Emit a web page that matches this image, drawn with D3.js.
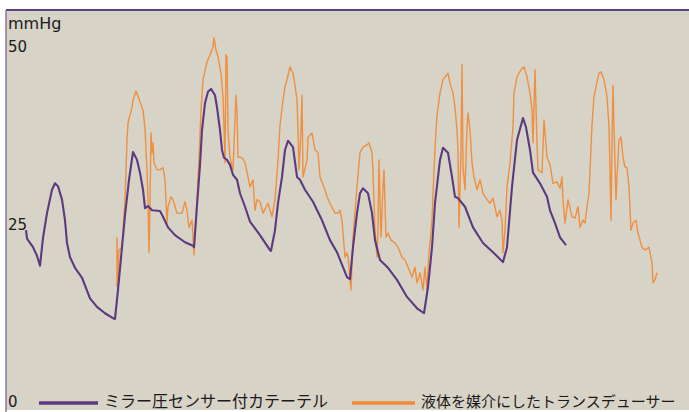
<!DOCTYPE html>
<html>
<head>
<meta charset="utf-8">
<script src="https://cdn.jsdelivr.net/npm/d3@7"></script>
<style>
 body { margin: 0; background: #ffffff; }
 .labels { font-family: "DejaVu Sans", sans-serif; fill: #1a1a1a; }
 .legendText { font-family: "Noto Sans CJK JP", sans-serif; fill: #1a1a1a; }
</style>
</head>
<body>
<script>
 // *** time (s) and pressure (mmHg)
 var millerTime = [0.20,0.21,0.27,0.31,0.34,0.37,0.41,0.46,0.49,0.52,0.56,0.59,0.61,0.64,0.69,0.76,0.84,0.91,0.99,1.07,1.09,1.12,1.16,1.19,1.23,1.27,1.31,1.34,1.37,1.39,1.42,1.46,1.54,1.57,1.62,1.69,1.79,1.87,1.88,1.91,1.94,1.96,1.99,2.02,2.05,2.09,2.11,2.14,2.16,2.18,2.21,2.24,2.27,2.31,2.34,2.39,2.44,2.54,2.64,2.65,2.69,2.72,2.76,2.79,2.82,2.87,2.91,2.94,2.99,3.07,3.16,3.24,3.31,3.41,3.44,3.47,3.51,3.54,3.57,3.62,3.66,3.69,3.74,3.82,3.91,4.01,4.11,4.18,4.22,4.26,4.29,4.34,4.37,4.42,4.46,4.49,4.52,4.59,4.67,4.77,4.87,4.97,5.01,5.06,5.11,5.17,5.20,5.24,5.27,5.34,5.41,5.44,5.49,5.54,5.60];
 var millerValues = [24.2,23.0,21.8,20.6,19.2,23.1,26.6,29.9,30.8,30.4,28.5,25.6,22.4,20.4,18.9,17.5,14.6,13.4,12.5,11.8,11.7,15.8,21.8,26.3,31.3,35.2,34.1,32.3,29.9,27.3,27.6,27.0,26.9,26.1,24.6,23.5,22.5,22.0,21.8,27.7,33.4,38.3,42.1,43.7,44.1,43.2,41.5,38.3,35.5,34.4,34.1,33.4,32.0,31.3,29.4,27.5,25.4,23.5,21.4,21.3,24.2,28.0,31.7,35.5,36.8,35.9,31.7,31.3,29.9,28.2,25.6,22.8,21.1,17.6,17.3,21.8,26.6,29.4,30.1,29.4,26.6,22.8,20.0,18.9,17.2,14.8,13.2,12.5,16.2,21.8,28.0,34.1,35.8,35.1,31.7,28.9,28.7,27.5,24.6,22.4,21.1,19.7,21.8,30.3,36.9,40.0,38.7,35.5,32.3,30.8,28.9,27.0,25.2,23.2,22.1];

 var fluidTime = [1.11,1.11,1.12,1.13,1.16,1.19,1.21,1.22,1.26,1.27,1.30,1.34,1.37,1.39,1.40,1.41,1.42,1.43,1.44,1.45,1.46,1.47,1.48,1.51,1.54,1.57,1.59,1.61,1.62,1.65,1.67,1.71,1.76,1.79,1.81,1.83,1.86,1.88,1.91,1.93,1.95,1.97,2.01,2.04,2.07,2.08,2.10,2.12,2.15,2.17,2.18,2.19,2.20,2.21,2.22,2.24,2.27,2.30,2.31,2.32,2.36,2.39,2.42,2.44,2.47,2.49,2.51,2.54,2.57,2.62,2.66,2.69,2.72,2.74,2.77,2.79,2.81,2.84,2.87,2.89,2.91,2.92,2.93,2.95,2.96,2.97,3.01,3.02,3.06,3.09,3.12,3.14,3.18,3.21,3.24,3.29,3.32,3.34,3.36,3.39,3.41,3.42,3.45,3.47,3.51,3.54,3.57,3.61,3.63,3.66,3.67,3.69,3.71,3.72,3.73,3.75,3.77,3.78,3.80,3.82,3.85,3.89,3.92,3.96,3.99,4.02,4.06,4.09,4.11,4.14,4.17,4.19,4.21,4.23,4.26,4.28,4.30,4.31,4.34,4.37,4.42,4.44,4.47,4.49,4.51,4.52,4.53,4.55,4.56,4.57,4.59,4.61,4.62,4.64,4.66,4.68,4.71,4.74,4.77,4.81,4.84,4.87,4.91,4.94,4.96,4.97,4.99,5.01,5.04,5.07,5.08,5.11,5.15,5.18,5.21,5.24,5.26,5.27,5.29,5.31,5.32,5.36,5.38,5.41,5.44,5.47,5.51,5.54,5.56,5.57,5.59,5.62,5.66,5.69,5.72,5.74,5.77,5.79,5.81,5.83,5.86,5.88,5.91,5.93,5.95,5.98,6.01,6.03,6.04,6.05,6.06,6.07,6.08,6.10,6.11,6.13,6.15,6.17,6.19,6.21,6.23,6.25,6.27,6.30,6.32,6.36,6.39,6.43,6.46,6.47,6.49,6.51];
 var fluidValues = [16.2,23.1,16.2,21.4,21.8,28.5,36.9,39.3,41.5,42.5,43.8,42.3,41.1,38.6,35.5,32.7,28.5,21.1,28.0,37.9,35.1,36.5,33.7,32.7,32.7,33.0,31.3,25.2,27.5,28.9,28.5,26.6,26.6,28.2,27.0,24.6,25.6,20.7,28.5,34.1,41.1,45.4,47.9,48.9,50.0,51.3,49.6,48.6,46.3,43.0,38.7,33.7,48.9,48.6,38.3,34.5,32.7,43.2,40.7,34.5,34.4,33.7,31.7,30.3,31.3,27.0,28.5,28.2,26.6,28.0,26.1,28.5,34.1,39.0,42.5,44.4,45.4,47.2,46.3,44.6,42.5,38.3,32.7,38.3,43.2,31.7,34.1,37.3,37.9,35.5,35.1,31.7,30.3,28.9,28.0,26.6,26.6,27.0,25.6,20.4,21.0,20.4,15.8,23.2,30.3,35.1,35.9,36.2,36.5,35.1,32.3,24.2,20.4,24.6,34.1,23.2,30.3,32.7,23.2,23.8,22.8,22.4,21.8,20.4,20.0,19.0,17.6,19.0,16.8,18.2,15.8,19.0,15.8,21.0,25.6,32.7,38.3,40.4,43.5,45.4,46.3,44.9,43.5,41.5,38.3,35.5,24.6,35.5,47.5,33.1,29.9,38.7,40.7,38.3,33.7,31.7,29.9,31.3,29.4,28.5,28.0,28.7,26.1,27.0,25.6,21.0,24.2,30.3,33.7,38.7,43.5,45.8,46.8,47.2,45.8,43.5,41.1,36.5,46.8,36.5,32.7,32.3,39.7,34.5,33.4,30.8,31.0,30.1,31.7,28.5,25.2,28.5,26.1,25.9,27.5,24.6,25.6,25.2,27.5,29.4,39.0,43.0,45.1,46.3,46.5,45.4,43.0,38.7,32.7,25.6,36.9,44.6,38.7,28.5,31.7,36.9,37.3,34.5,33.1,33.0,30.3,24.2,25.2,25.6,23.8,21.8,21.4,21.8,19.6,16.8,17.2,18.2];

 var yTicks = [0, 25, 50];
 var seriesNames = ["ミラー圧センサー付カテーテル", "液体を媒介にしたトランスデューサー"];
 var seriesColors = ["#5b3a7f", "#f08a35"];

 var millerData = millerTime.map(function(t, i) { return { t: t, v: millerValues[i] }; });
 var fluidData = fluidTime.map(function(t, i) { return { t: t, v: fluidValues[i] }; });

 var width = 689
 var height = 412

 var svg = d3.select('body')
  .append('svg')
  .attr('width', width)
  .attr('height', height);

 var xScale = d3.scaleLinear()
  .domain([0, 6.83])
  .range([6, 689]);

 var yScale = d3.scaleLinear()
  .domain([0, 50])
  .range([402, 47]);

 // *** plot frame
 svg.append('rect')
  .attr('x', 6)
  .attr('y', 10)
  .attr('width', 690)
  .attr('height', 400)
  .attr('fill', '#d8d3c7');

 svg.append('line')
  .attr('x1', 6).attr('x2', 689)
  .attr('y1', 10).attr('y2', 10)
  .attr('stroke', '#5e4180')
  .attr('stroke-width', 2);

 svg.append('line')
  .attr('x1', 6).attr('x2', 6)
  .attr('y1', 10).attr('y2', 412)
  .attr('stroke', '#8a74a0')
  .attr('stroke-width', 1.5);

 var line = d3.line()
  .x(function(d) { return xScale(d.t) })
  .y(function(d) { return yScale(d.v) });

 // *** fluid-filled transducer trace (behind)
 svg.append('path')
  .datum(fluidData)
  .attr('d', line)
  .attr('fill', 'none')
  .attr('stroke', seriesColors[1])
  .attr('stroke-width', 1.4)
  .attr('stroke-opacity', 0.92)
  .attr('stroke-linejoin', 'round');

 // *** miller catheter trace
 svg.append('path')
  .datum(millerData)
  .attr('d', line)
  .attr('fill', 'none')
  .attr('stroke', seriesColors[0])
  .attr('stroke-width', 2.1)
  .attr('stroke-linejoin', 'round');

 // y tick labels
 svg.selectAll('.tick-label')
  .data(yTicks)
  .enter()
  .append('text')
  .attr('class', 'labels tick-label')
  .attr('x', 8)
  .attr('y', function(d) { return yScale(d) + 5 })
  .style('font-size', '15px')
  .text(function(d) { return d });

 svg.append('text')
  .attr('class', 'labels')
  .attr('x', 8)
  .attr('y', 29)
  .style('font-size', '16px')
  .text('mmHg');

 // *** legend
 var legendX = [39, 352];
 var legendW = [59, 63];
 var legendSize = ['16px', '15px'];
 var legend = svg.selectAll('.legend')
  .data(seriesNames)
  .enter()
  .append('g')
  .attr('class', 'legend');

 legend.append('line')
  .attr('x1', function(d, i) { return legendX[i] })
  .attr('x2', function(d, i) { return legendX[i] + legendW[i] })
  .attr('y1', 403)
  .attr('y2', 403)
  .attr('stroke', function(d, i) { return seriesColors[i] })
  .attr('stroke-width', 3.5);

 legend.append('text')
  .attr('class', 'legendText')
  .attr('x', function(d, i) { return legendX[i] + legendW[i] + 6 })
  .attr('y', 407)
  .style('font-size', function(d, i) { return legendSize[i] })
  .text(function(d) { return d });
</script>
</body>
</html>
